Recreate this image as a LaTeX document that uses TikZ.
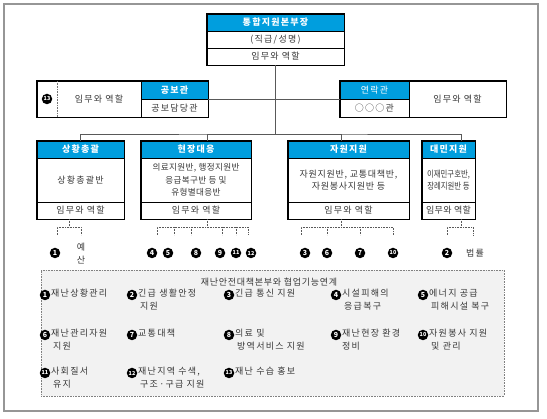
\documentclass[tikz,border=0pt]{standalone}
\usepackage{fontspec}
\setmainfont{Noto Sans CJK KR}
\newfontfamily\krw{Noto Sans CJK KR}[LetterSpace=14]
\newfontfamily\krm{Noto Sans CJK KR}[LetterSpace=8]
\newfontfamily\krs{Noto Sans CJK KR}[LetterSpace=4]
\newfontfamily\krnarrow{Noto Sans CJK KR}[FakeStretch=0.82]
\definecolor{hblue}{RGB}{0,158,222}
\definecolor{frameg}{RGB}{150,150,150}
\definecolor{txt}{RGB}{55,55,55}
\definecolor{coopbg}{RGB}{242,242,242}
\begin{document}
\begin{tikzpicture}[x=1pt,y=-1pt,
  box/.style={draw=black, line width=0.5pt, inner sep=0pt, text=txt, font=\fontsize{9}{12.5}\krw, align=center},
  hdr/.style={box, fill=hblue, text=white, font=\fontsize{9}{10}\krw\bfseries},
  hdrl/.style={box, fill=hblue, text=white, font=\fontsize{9}{10}\krw},
  lbl/.style={inner sep=0pt, text=txt, font=\fontsize{9}{12.5}\krw},
  outl/.style={draw=black, line width=1pt},
  numc/.style={circle, fill=black, text=white, inner sep=0pt, minimum size=10.5pt, font=\fontsize{7}{7}\selectfont\bfseries},
  numcc/.style={numc, font=\fontsize{5.5}{5.5}\selectfont\bfseries},
  conn/.style={draw=black!65, line width=0.7pt},
  brk/.style={draw=black!65, line width=0.6pt, densely dotted},
  item/.style={anchor=north west, inner sep=0pt, align=left, text=txt, font=\fontsize{9}{13}\krw}
]
\useasboundingbox (0,0) rectangle (547,419);
\draw[frameg, line width=1.2pt] (4,4) rectangle (538,411);

% HQ
\node[hdr, minimum width=137pt, minimum height=17pt] (hq1) at (275.5,22.5) {통합지원본부장};
\node[box, minimum width=137pt, minimum height=17pt] (hq2) at (275.5,39.5) {(직급/성명)};
\node[box, minimum width=137pt, minimum height=17pt] (hq3) at (275.5,56.5) {임무와 역할};
\draw[outl] (hq1.north west) rectangle (hq3.south east);

% 공보관
\node[box, minimum width=104pt, minimum height=36pt] (gbL) at (89,99) {};
\node[lbl] (gbT) at (99,99) {임무와 역할};
\node[numcc] (n13a) at (47,99) {13};
\coordinate (gbd1) at (57,81);
\coordinate (gbd2) at (57,117);
\draw[draw=black!55, densely dotted, line width=0.6pt] (gbd1) -- (gbd2);
\node[hdr, minimum width=67pt, minimum height=18pt] (gbH) at (174.5,90) {공보관};
\node[box, minimum width=67pt, minimum height=18pt] (gbB) at (174.5,108) {공보담당관};
\draw[outl] (gbL.north west) rectangle (gbB.south east);

% 연락관
\node[hdrl, minimum width=69pt, minimum height=18pt] (lrH) at (374.5,90) {연락관};
\node[box, minimum width=69pt, minimum height=18pt] (lrB) at (374.5,108) {○○○관};
\node[box, minimum width=97pt, minimum height=36pt] (lrR) at (457.5,99) {임무와 역할};
\draw[outl] (lrH.north west) rectangle (lrR.south east);

% connectors
\coordinate (bus) at (275.5,134);
\coordinate (tB) at (207,141);
\coordinate (tC) at (341,141);
\coordinate (tD) at (461,141);
\draw[conn] (hq3.south) -- (bus);
\draw[conn] (gbH.south east) -- (lrH.south west);

% lower boxes
\node[hdr, minimum width=87pt, minimum height=17pt] (Ah) at (80.5,149.5) {상황총괄};
\node[box, minimum width=87pt, minimum height=44pt] (Ab) at (80.5,180) {상황총괄반};
\node[box, minimum width=87pt, minimum height=17pt] (Af) at (80.5,210.5) {임무와 역할};
\draw[outl] (Ah.north west) rectangle (Af.south east);

\node[hdr, minimum width=110pt, minimum height=17pt] (Bh) at (196,149.5) {현장대응};
\node[box, minimum width=110pt, minimum height=44pt, font=\fontsize{8.6}{12.5}\krs] (Bb) at (196,180) {의료지원반, 행정지원반\\응급복구반 등 및\\유형별대응반};
\node[box, minimum width=110pt, minimum height=17pt] (Bf) at (196,210.5) {임무와 역할};
\draw[outl] (Bh.north west) rectangle (Bf.south east);

\node[hdr, minimum width=121pt, minimum height=17pt] (Ch) at (348.5,149.5) {자원지원};
\node[box, minimum width=121pt, minimum height=44pt, font=\fontsize{9}{12.5}\krm] (Cb) at (348.5,180) {자원지원반, 교통대책반,\\자원봉사지원반 등};
\node[box, minimum width=121pt, minimum height=17pt] (Cf) at (348.5,210.5) {임무와 역할};
\draw[outl] (Ch.north west) rectangle (Cf.south east);

\node[hdr, minimum width=53pt, minimum height=17pt] (Dh) at (448.5,149.5) {대민지원};
\node[box, minimum width=53pt, minimum height=44pt, font=\fontsize{9}{12.5}\krnarrow] (Db) at (448.5,180) {이재민구호반,\\장례지원반 등};
\node[box, minimum width=53pt, minimum height=17pt, font=\fontsize{9}{12.5}\krs] (Df) at (448.5,210.5) {임무와 역할};
\draw[outl] (Dh.north west) rectangle (Df.south east);

\draw[conn] (Ah.north) |- (bus) -| (tD);
\draw[conn] (bus) -| (tB);
\draw[conn] (bus) -| (tC);

% brackets
\draw[brk] (69,219) -- (69,227) (57,235) -- (57,227) -- (81,227) -- (81,235);
\draw[brk] (207,219) -- (207,227) (157,235) -- (157,227) -- (248,227) -- (248,235)
  (174,227) -- (174,235) (191,227) -- (191,235) (222,227) -- (222,235) (236,227) -- (236,235);
\draw[brk] (341,219) -- (341,227) (301,235) -- (301,227) -- (393,227) -- (393,235)
  (327,227) -- (327,235) (360,227) -- (360,235);
\draw[brk] (461,219) -- (461,227) (447,235) -- (447,227) -- (473,227) -- (473,235);

% numbers under boxes
\node[numc] (a1) at (55,253) {1};
\node[lbl] (ye) at (81,247) {예};
\node[lbl] (san) at (81,260) {산};
\node[numc] (b4) at (152,253) {4};
\node[numc] (b5) at (168,253) {5};
\node[numc] (b8) at (196,253) {8};
\node[numc] (b9) at (220,253) {9};
\node[numcc] (b11) at (236,253) {11};
\node[numcc] (b12) at (251,253) {12};
\node[numc] (c3) at (305,253) {3};
\node[numc] (c6) at (327,253) {6};
\node[numc] (c7) at (360,253) {7};
\node[numcc] (c10) at (393,253) {10};
\node[numc] (d2) at (447,253) {2};
\node[lbl] (law) at (475,253) {법률};

% cooperation box
\node[draw=black!50, densely dotted, line width=0.6pt, fill=coopbg, minimum width=463pt, minimum height=126pt, inner sep=0pt] (coop) at (272.5,333) {};
\node[lbl, font=\fontsize{9}{12.5}\krm] (coopT) at (269,282) {재난안전대책본부와 협업기능연계};

\node[numc] (g1) at (45,295) {1};
\node[item] (g1t) at (51,289) {재난상황관리};
\node[numc] (g2) at (132,295) {2};
\node[item] (g2t) at (138,289) {긴급 생활안정\\\hspace{2pt}지원};
\node[numc] (g3) at (229,295) {3};
\node[item] (g3t) at (235,289) {긴급 통신 지원};
\node[numc] (g4) at (336,295) {4};
\node[item] (g4t) at (342,289) {시설피해의\\\hspace{2pt}응급복구};
\node[numc] (g5) at (423,295) {5};
\node[item] (g5t) at (429,289) {에너지 공급\\\hspace{2pt}피해시설 복구};

\node[numc] (g6) at (45,335) {6};
\node[item] (g6t) at (51,329) {재난관리자원\\\hspace{2pt}지원};
\node[numc] (g7) at (132,335) {7};
\node[item] (g7t) at (138,329) {교통대책};
\node[numc] (g8) at (229,335) {8};
\node[item] (g8t) at (235,329) {의료 및\\\hspace{2pt}방역서비스 지원};
\node[numc] (g9) at (336,335) {9};
\node[item] (g9t) at (342,329) {재난현장 환경\\정비};
\node[numcc] (g10) at (423,335) {10};
\node[item] (g10t) at (429,329) {자원봉사 지원\\\hspace{2pt}및 관리};

\node[numcc] (g11) at (45,373) {11};
\node[item] (g11t) at (51,367) {사회질서\\\hspace{2pt}유지};
\node[numcc] (g12) at (132,373) {12};
\node[item] (g12t) at (138,367) {재난지역 수색,\\\hspace{2pt}구조·구급 지원};
\node[numcc] (g13) at (229,373) {13};
\node[item] (g13t) at (235,367) {재난 수습 홍보};
\end{tikzpicture}
\end{document}
